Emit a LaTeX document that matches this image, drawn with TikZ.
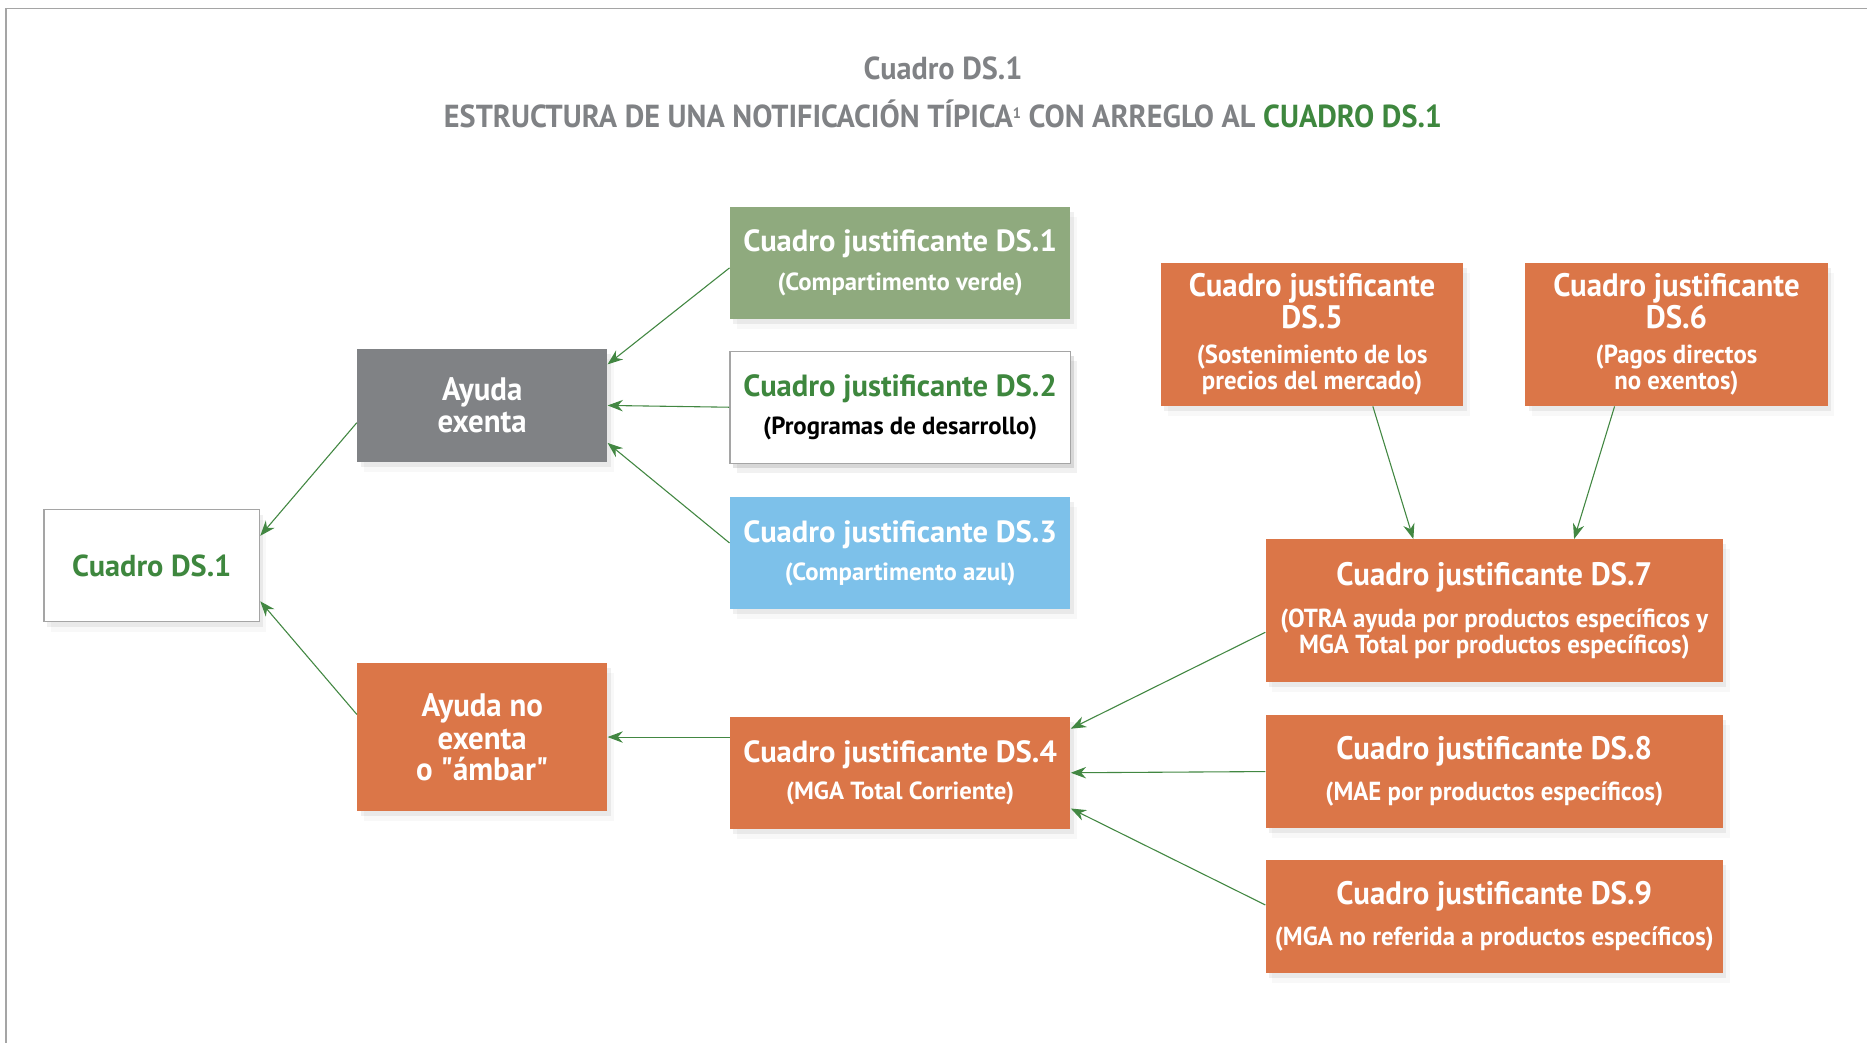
\documentclass[tikz,border=0pt]{standalone}
\usepackage{fontspec}
\setmainfont{PT Sans}
\newfontfamily\estrecha{PT Sans}[FakeStretch=0.95]
\usetikzlibrary{arrows.meta, calc, shadows}

\definecolor{naranja}{RGB}{219,118,72}
\definecolor{grisbox}{RGB}{128,130,133}
\definecolor{verdebox}{RGB}{143,170,126}
\definecolor{azulbox}{RGB}{125,193,234}
\definecolor{verdetexto}{RGB}{62,135,62}
\definecolor{verdeflecha}{RGB}{66,135,66}
\definecolor{gristitulo}{RGB}{128,130,133}
\definecolor{grismarco}{RGB}{165,165,165}

\newcommand{\titf}{\fontsize{18.3}{20}\selectfont\bfseries}
\newcommand{\subf}{\fontsize{14.8}{17}\selectfont\bfseries}
\newcommand{\titc}{\estrecha\fontsize{19.4}{19.4}\selectfont\bfseries}
\newcommand{\subc}{\estrecha\fontsize{15.6}{15.6}\selectfont\bfseries}

\begin{document}
\begin{tikzpicture}[x=0.025cm, y=-0.025cm,
    caja/.style={rectangle, inner sep=0pt, align=center, text=white,
        drop shadow={shadow xshift=2pt, shadow yshift=-3pt, opacity=0.12},
        drop shadow={shadow xshift=4pt, shadow yshift=-6pt, opacity=0.06}},
    blanca/.style={caja, fill=white, draw=grismarco, line width=0.8pt},
    ancha/.style={caja, minimum width=7.15cm, minimum height=2.35cm},
    larga/.style={caja, fill=naranja, minimum width=9.6cm, minimum height=2.375cm},
    media/.style={caja, fill=naranja, minimum width=6.35cm, minimum height=3cm},
    ayuda/.style={caja, minimum width=5.25cm},
    flecha/.style={verdeflecha, line width=0.65pt, -{Stealth[length=3.2mm, width=2.4mm]}}]

    \useasboundingbox (0,0) rectangle (1568,876);

    % Frame
    \draw[grismarco, line width=0.8pt] (1568,7) -- (5,7) -- (5,876);

    % Title
    \node[gristitulo, font=\estrecha\fontsize{19}{22}\selectfont\bfseries] (tit1) at (792,57) {Cuadro DS.1};
    \node[gristitulo, font=\estrecha\fontsize{19}{22}\selectfont\bfseries] (tit2) at (792,96)
        {ESTRUCTURA DE UNA NOTIFICACIÓN TÍPICA\raisebox{5.5pt}{\fontsize{9}{9}\selectfont 1} CON ARREGLO AL \textcolor{verdetexto}{CUADRO DS.1}};

    % Left column
    \node[blanca, minimum width=4.525cm, minimum height=2.35cm, text=verdetexto, font=\fontsize{18.1}{20}\selectfont\bfseries] (ds1) at (127.5,475) {Cuadro DS.1};
    \node[ayuda, fill=grisbox, minimum height=2.375cm] (exenta) at (405,340.5) {\titc Ayuda\\[1.5pt]\titc exenta};
    \node[ayuda, fill=naranja, minimum height=3.1cm] (noexenta) at (405,619) {\titc Ayuda no\\[3pt]\titc exenta\\[3pt]\titc o "ámbar"};

    % Middle column
    \node[ancha, fill=verdebox] (j1) at (756,221) {\titf Cuadro justificante DS.1\\[8pt]\subf (Compartimento verde)};
    \node[ancha, blanca] (j2) at (756,342) {\titf\color{verdetexto}Cuadro justificante DS.2\\[7pt]\subf\color{black}(Programas de desarrollo)};
    \node[ancha, fill=azulbox] (j3) at (756,464.5) {\titf Cuadro justificante DS.3\\[7pt]\subf (Compartimento azul)};
    \node[ancha, fill=naranja] (j4) at (756,649) {\titf Cuadro justificante DS.4\\[7pt]\subf (MGA Total Corriente)};

    % Right column
    \node[media] (j5) at (1102,281) {\titc Cuadro justificante\\\titc DS.5\\[9pt]\subc (Sostenimiento de los\\\subc precios del mercado)};
    \node[media] (j6) at (1408,281) {\titc Cuadro justificante\\\titc DS.6\\[9pt]\subc (Pagos directos\\\subc no exentos)};
    \node[larga, minimum height=3cm] (j7) at (1255,513) {\titc Cuadro justificante DS.7\\[9pt]\subc (OTRA ayuda por productos específicos y\\\subc MGA Total por productos específicos)};
    \node[larga] (j8) at (1255,648) {\titc Cuadro justificante DS.8\\[8pt]\subc (MAE por productos específicos)};
    \node[larga] (j9) at (1255,769.5) {\titc Cuadro justificante DS.9\\[8pt]\subc (MGA no referida a productos específicos)};

    % Connectors
    \draw[flecha] ($(exenta.west)+(0,14.5)$) -- ($(ds1.east)+(0,-25)$);
    \draw[flecha] ($(noexenta.west)+(0,-19)$) -- ($(ds1.east)+(0,30)$);
    \draw[flecha] ($(j1.west)+(0,4)$) -- ($(exenta.east)+(0,-34.5)$);
    \draw[flecha] (j2.west) -- (exenta.east);
    \draw[flecha] ($(j3.west)+(0,-8.5)$) -- ($(exenta.east)+(0,31.5)$);
    \draw[flecha] (noexenta.east -| j4.west) -- (noexenta.east);
    \draw[flecha] ($(j7.west)+(0,18)$) -- ($(j4.east)+(0,-37)$);
    \draw[flecha] (j8.west) -- (j4.east);
    \draw[flecha] ($(j9.west)+(0,-9.5)$) -- ($(j4.east)+(0,30)$);
    \draw[flecha] ($(j5.south)+(51,0)$) -- ($(j7.north)+(-68,0)$);
    \draw[flecha] ($(j6.south)+(-52,0)$) -- ($(j7.north)+(67,0)$);
\end{tikzpicture}
\end{document}
